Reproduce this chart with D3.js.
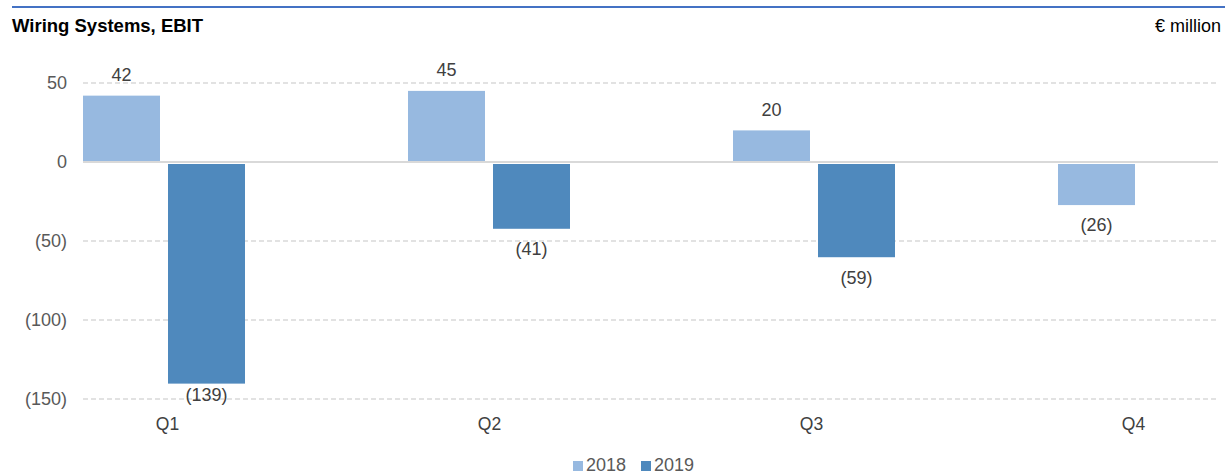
<!DOCTYPE html>
<html>
<head>
<meta charset="utf-8">
<script src="https://cdn.jsdelivr.net/npm/d3@7"></script>
<style>
  body { margin: 0; background: #fff; }
  svg { font-family: "Liberation Sans", Arial, sans-serif; }
</style>
</head>
<body>
<div id="chart"></div>
<script>
const quarters = ["Q1", "Q2", "Q3", "Q4"];
const years = ["2018", "2019"];
const ebit2018 = [42, 45, 20, -26];
const ebit2019 = [-139, -41, -59, null];
const yTicks = [50, 0, -50, -100, -150];
const colors = ["#97b9e0", "#4f89bd"];

const W = 1225, H = 474;
const plot = {left: 83, right: 1218, top: 83, bottom: 399};

const svg = d3.select("#chart").append("svg")
  .attr("width", W)
  .attr("height", H);

// header
svg.append("line")
  .attr("x1", 12).attr("x2", W)
  .attr("y1", 7).attr("y2", 7)
  .attr("stroke", "#4472c4")
  .attr("stroke-width", 2);

svg.append("text")
  .attr("x", 12).attr("y", 32)
  .attr("font-size", 18.5).attr("font-weight", "bold")
  .attr("fill", "#000")
  .text("Wiring Systems, EBIT");

svg.append("text")
  .attr("x", 1221).attr("y", 32)
  .attr("text-anchor", "end")
  .attr("font-size", 18)
  .attr("fill", "#000")
  .text("€ million");

const y = d3.scaleLinear()
  .domain([50, -150])
  .range([plot.top, plot.bottom]);

// groups are spaced wider than the plot, like the source
const x0 = d3.scaleBand()
  .domain(quarters)
  .range([plot.left, plot.left + 325 * quarters.length]);

const x1 = d3.scaleBand()
  .domain(years)
  .range([0, 162])
  .paddingInner(8 / 85);

// quarter labels sit on their own scale
const xLabel = d3.scaleBand()
  .domain(quarters)
  .range([6.5, 6.5 + 322 * quarters.length]);

const fmt = v => v < 0 ? "(" + Math.abs(v) + ")" : String(v);

// grid
svg.append("g")
  .selectAll("line")
  .data(yTicks)
  .join("line")
  .attr("x1", plot.left).attr("x2", plot.right)
  .attr("y1", d => y(d)).attr("y2", d => y(d))
  .attr("stroke", "#d9d9d9")
  .attr("stroke-width", d => d === 0 ? 2 : 1.3)
  .attr("stroke-dasharray", d => d === 0 ? null : "5,3");

svg.append("g")
  .selectAll("text")
  .data(yTicks)
  .join("text")
  .attr("x", 67)
  .attr("y", d => y(d))
  .attr("dy", "0.35em")
  .attr("text-anchor", "end")
  .attr("font-size", 18)
  .attr("fill", "#595959")
  .text(fmt);

// bars
const rows = [];
quarters.forEach(function (q, i) {
  [ebit2018[i], ebit2019[i]].forEach(function (v, j) {
    if (v !== null) rows.push({q: q, year: years[j], value: v, color: colors[j]});
  });
});

svg.append("g")
  .selectAll("rect")
  .data(rows)
  .join("rect")
  .attr("x", d => x0(d.q) + x1(d.year))
  .attr("width", x1.bandwidth())
  .attr("y", d => d.value >= 0 ? y(d.value) : y(0) + 2)
  .attr("height", d => Math.abs(y(d.value) - y(0)) - (d.value >= 0 ? 1 : 0))
  .attr("fill", d => d.color);

svg.append("g")
  .selectAll("text")
  .data(rows)
  .join("text")
  .attr("x", d => x0(d.q) + x1(d.year) + x1.bandwidth() / 2)
  .attr("y", function (d) {
    if (d.value >= 0) return y(d.value) - 21;
    return Math.min(y(d.value) + 22, y(-150) - 4);
  })
  .attr("dy", "0.35em")
  .attr("text-anchor", "middle")
  .attr("font-size", 18)
  .attr("fill", "#404040")
  .text(d => fmt(d.value));

// category labels
svg.append("g")
  .selectAll("text")
  .data(quarters)
  .join("text")
  .attr("x", d => xLabel(d) + xLabel.bandwidth() / 2)
  .attr("y", 424)
  .attr("dy", "0.35em")
  .attr("text-anchor", "middle")
  .attr("font-size", 17.5)
  .attr("fill", "#404040")
  .text(d => d);

// legend
const legend = svg.append("g")
  .attr("transform", "translate(573,465)");

const item = legend.selectAll("g")
  .data(years)
  .join("g")
  .attr("transform", (d, i) => "translate(" + (i * 68) + ",0)");

item.append("rect")
  .attr("x", 0).attr("y", -4)
  .attr("width", 10).attr("height", 10)
  .attr("fill", (d, i) => colors[i]);

item.append("text")
  .attr("x", 13).attr("y", 0)
  .attr("dy", "0.35em")
  .attr("font-size", 18)
  .attr("fill", "#595959")
  .text(d => d);
</script>
</body>
</html>
